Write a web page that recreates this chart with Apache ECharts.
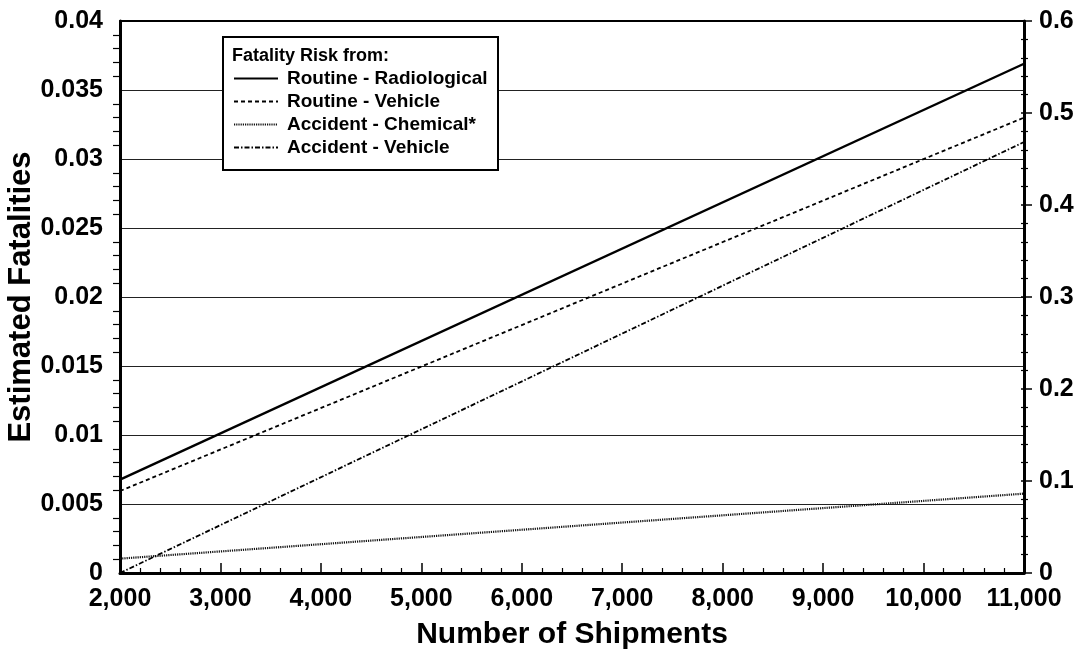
<!DOCTYPE html>
<html>
<head>
<meta charset="utf-8">
<script src="https://cdn.jsdelivr.net/npm/echarts@6/dist/echarts.min.js"></script>
<style>
html,body{margin:0;padding:0;background:#fff;}
#c{width:1082px;height:653px;}
</style>
</head>
<body>
<div id="c"></div>
<script>
// Data
var shipments = [2000, 11000];
var routineRadiological = [0.00677, 0.0369];
var routineVehicle = [0.00594, 0.0330];
var accidentChemical = [0.00104, 0.00575];
var accidentVehicle = [0.0000, 0.03123];
var seriesNames = ['Routine - Radiological', 'Routine - Vehicle', 'Accident - Chemical*', 'Accident - Vehicle'];
var legendTitle = 'Fatality Risk from:';
var xTitle = 'Number of Shipments';
var yTitle = 'Estimated Fatalities';

var FONT = '"Liberation Sans", Arial, sans-serif';

function pairs(xs, ys) { return xs.map(function (x, i) { return [x, ys[i]]; }); }
function commas(v) { return String(v).replace(/\B(?=(\d{3})+(?!\d))/g, ','); }

var chart = echarts.init(document.getElementById('c'));
var labelStyle = { color: '#000', fontSize: 25, fontWeight: 'bold', fontFamily: FONT };

chart.setOption({
  animation: false,
  backgroundColor: '#fff',
  grid: { left: 120, right: 58, top: 21, bottom: 80, containLabel: false, outerBoundsMode: 'none' },
  graphic: [
    { type: 'rect', z: 3, shape: { x: 223, y: 37, width: 275, height: 133 },
      style: { fill: '#fff', stroke: '#000', lineWidth: 2 } },
    { type: 'text', z: 7, left: 232, top: 47,
      style: { text: legendTitle, font: 'bold 18px ' + FONT, fill: '#000' } }
  ],
  legend: {
    orient: 'vertical', left: 233, top: 69, z: 6, padding: 0,
    itemWidth: 44, itemHeight: 14, itemGap: 4,
    itemStyle: { opacity: 0 },
    textStyle: { color: '#000', fontSize: 19, fontWeight: 'bold', fontFamily: FONT, lineHeight: 19,
      padding: [0, 0, 0, 4] },
    data: seriesNames
  },
  xAxis: [
    {
      type: 'value', min: 2000, max: 11000, interval: 1000, position: 'bottom',
      name: xTitle, nameLocation: 'middle', nameGap: 47, nameMoveOverlap: false,
      nameTextStyle: { color: '#000', fontSize: 30, fontWeight: 'bold', fontFamily: FONT },
      axisLine: { show: true, onZero: false, lineStyle: { color: '#000', width: 3 } },
      axisTick: { show: true, inside: true, length: 10, lineStyle: { color: '#000', width: 1.5 } },
      minorTick: { show: true, splitNumber: 5, length: 5, lineStyle: { color: '#000', width: 1.2 } },
      axisLabel: Object.assign({ margin: 14, formatter: commas }, labelStyle),
      splitLine: { show: false }
    },
    {
      type: 'value', min: 2000, max: 11000, interval: 1000, position: 'top',
      axisLine: { show: true, onZero: false, lineStyle: { color: '#000', width: 2 } },
      axisTick: { show: false }, axisLabel: { show: false }, splitLine: { show: false }
    }
  ],
  yAxis: [
    {
      type: 'value', min: 0, max: 0.04, interval: 0.005, position: 'left',
      name: yTitle, nameLocation: 'middle', nameGap: 83, nameMoveOverlap: false,
      nameTextStyle: { color: '#000', fontSize: 31, fontWeight: 'bold', fontFamily: FONT },
      axisLine: { show: true, onZero: false, lineStyle: { color: '#000', width: 3 } },
      axisTick: { show: false },
      minorTick: { show: true, splitNumber: 5, length: 7, lineStyle: { color: '#000', width: 1.2 } },
      axisLabel: Object.assign({ margin: 17 }, labelStyle),
      splitLine: { show: true, lineStyle: { color: '#222', width: 1 } }
    },
    {
      type: 'value', min: 0, max: 0.6, interval: 0.1, position: 'right',
      axisLine: { show: true, onZero: false, lineStyle: { color: '#000', width: 3 } },
      axisTick: { show: true, inside: false, length: 8, lineStyle: { color: '#000', width: 1.5 } },
      minorTick: { show: true, splitNumber: 5, length: 4, lineStyle: { color: '#000', width: 1.2 } },
      axisLabel: Object.assign({ margin: 15 }, labelStyle),
      splitLine: { show: false }
    },
    {
      type: 'value', min: 0, max: 0.6, interval: 0.1, position: 'right',
      axisLine: { show: false },
      axisTick: { show: true, inside: true, length: 3, lineStyle: { color: '#000', width: 1.5 } },
      minorTick: { show: true, splitNumber: 5, length: 3, lineStyle: { color: '#000', width: 1.2 } },
      axisLabel: { show: false },
      splitLine: { show: false }
    }
  ],
  series: [
    { name: seriesNames[0], type: 'line', symbol: 'none', data: pairs(shipments, routineRadiological),
      lineStyle: { color: '#000', width: 2.4, type: 'solid' }, itemStyle: { color: '#000' } },
    { name: seriesNames[1], type: 'line', symbol: 'none', data: pairs(shipments, routineVehicle),
      lineStyle: { color: '#000', width: 1.8, type: [4, 3] }, itemStyle: { color: '#000' } },
    { name: seriesNames[2], type: 'line', symbol: 'none', data: pairs(shipments, accidentChemical),
      lineStyle: { color: '#111', width: 2.2, type: [1.2, 1] }, itemStyle: { color: '#111' } },
    { name: seriesNames[3], type: 'line', symbol: 'none', data: pairs(shipments, accidentVehicle),
      lineStyle: { color: '#000', width: 1.8, type: [5, 2, 1.5, 2] }, itemStyle: { color: '#000' } }
  ]
});
</script>
</body>
</html>
